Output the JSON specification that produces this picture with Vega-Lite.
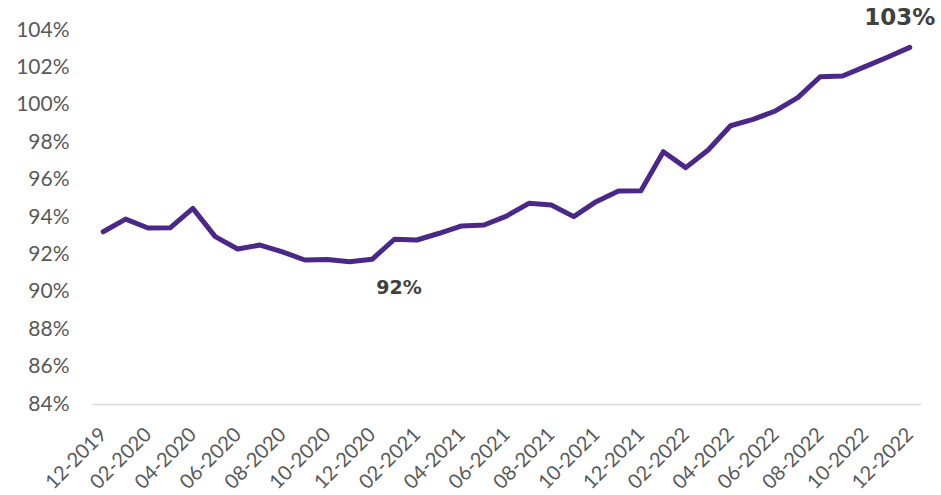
{
  "$schema": "https://vega.github.io/schema/vega-lite/v6.json",
  "width": 829,
  "height": 374,
  "autosize": "none",
  "padding": {"left": 92, "top": 30, "right": 20, "bottom": 91},
  "background": "white",
  "config": {"view": {"stroke": null}, "font": "Lato"},
  "data": {"values": [
    {"month": "12-2019", "value": 93.21},
    {"month": "01-2020", "value": 93.89},
    {"month": "02-2020", "value": 93.41},
    {"month": "03-2020", "value": 93.43},
    {"month": "04-2020", "value": 94.46},
    {"month": "05-2020", "value": 92.95},
    {"month": "06-2020", "value": 92.29},
    {"month": "07-2020", "value": 92.5},
    {"month": "08-2020", "value": 92.13},
    {"month": "09-2020", "value": 91.7},
    {"month": "10-2020", "value": 91.73},
    {"month": "11-2020", "value": 91.61},
    {"month": "12-2020", "value": 91.74},
    {"month": "01-2021", "value": 92.81},
    {"month": "02-2021", "value": 92.77},
    {"month": "03-2021", "value": 93.13},
    {"month": "04-2021", "value": 93.52},
    {"month": "05-2021", "value": 93.57},
    {"month": "06-2021", "value": 94.05},
    {"month": "07-2021", "value": 94.73},
    {"month": "08-2021", "value": 94.64},
    {"month": "09-2021", "value": 94.02},
    {"month": "10-2021", "value": 94.82},
    {"month": "11-2021", "value": 95.39},
    {"month": "12-2021", "value": 95.41},
    {"month": "01-2022", "value": 97.49},
    {"month": "02-2022", "value": 96.64},
    {"month": "03-2022", "value": 97.58},
    {"month": "04-2022", "value": 98.88},
    {"month": "05-2022", "value": 99.22},
    {"month": "06-2022", "value": 99.67},
    {"month": "07-2022", "value": 100.38},
    {"month": "08-2022", "value": 101.5},
    {"month": "09-2022", "value": 101.54},
    {"month": "10-2022", "value": 102.04},
    {"month": "11-2022", "value": 102.54},
    {"month": "12-2022", "value": 103.07}
  ]},
  "encoding": {
    "x": {
      "field": "month", "type": "ordinal", "sort": null,
      "scale": {"type": "point", "padding": 0.5},
      "axis": {
        "title": null,
        "values": ["12-2019","02-2020","04-2020","06-2020","08-2020","10-2020","12-2020","02-2021","04-2021","06-2021","08-2021","10-2021","12-2021","02-2022","04-2022","06-2022","08-2022","10-2022","12-2022"],
        "labelAngle": -45, "labelAlign": "right", "labelBaseline": "middle",
        "labelFontSize": 20, "labelColor": "#595959", "labelPadding": 27,
        "ticks": false, "domainColor": "#d9d9d9", "domainWidth": 1.5,
        "grid": false, "labelOverlap": false
      }
    },
    "y": {
      "field": "value", "type": "quantitative",
      "scale": {"domain": [84, 104], "nice": false, "zero": false},
      "axis": {
        "title": null, "values": [84,86,88,90,92,94,96,98,100,102,104],
        "labelExpr": "datum.value + '%'",
        "labelFontSize": 21, "labelColor": "#595959", "labelPadding": 23,
        "ticks": false, "domain": false, "grid": false
      }
    }
  },
  "layer": [
    {"mark": {"type": "line", "color": "#4B2887", "strokeWidth": 5, "strokeJoin": "round", "strokeCap": "round"}},
    {
      "transform": [{"filter": "datum.month == '12-2020'"}],
      "mark": {"type": "text", "text": "92%", "font": "DejaVu Sans", "fontWeight": "bold", "fontSize": 19, "color": "#404040", "dx": 27, "dy": 29}
    },
    {
      "transform": [{"filter": "datum.month == '12-2022'"}],
      "mark": {"type": "text", "text": "103%", "font": "DejaVu Sans", "fontWeight": "bold", "fontSize": 23, "color": "#404040", "dx": -10, "dy": -29}
    }
  ]
}
